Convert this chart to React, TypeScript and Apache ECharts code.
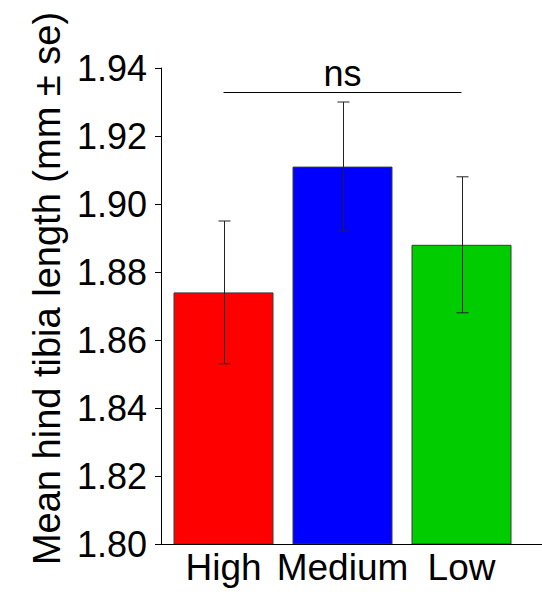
import React, { useEffect, useRef } from "react";
import * as echarts from "echarts";

const categories = ["High", "Medium", "Low"];
const means = [1.874, 1.911, 1.888];
const lowerSE = [1.853, 1.892, 1.868];
const upperSE = [1.895, 1.93, 1.908];
const barColors = ["#FF0000", "#0000FF", "#00CC00"];
const yMin = 1.8;
const yMax = 1.94;
const yInterval = 0.02;
const nsLevel = 1.933;
const nsLabel = "ns";
const yName = "Mean hind tibia length (mm \u00b1 se)";

const FONT = "'Liberation Sans', Arial, Helvetica, sans-serif";

export default function App() {
  const ref = useRef<HTMLDivElement>(null);

  useEffect(() => {
    if (!ref.current) return;
    const chart = echarts.init(ref.current, null, { renderer: "svg" });

    const option: any = {
      animation: false,
      backgroundColor: "#ffffff",
      textStyle: { fontFamily: FONT },
      grid: { left: 164, top: 68, width: 357, height: 476, containLabel: false },
      xAxis: {
        type: "category",
        data: categories,
        axisLine: { show: false },
        axisTick: { show: false },
        axisLabel: {
          color: "#000",
          fontSize: 37,
          fontFamily: FONT,
          margin: 5,
          interval: 0,
          hideOverlap: false,
        },
      },
      yAxis: {
        type: "value",
        min: yMin,
        max: yMax,
        interval: yInterval,
        offset: 3,
        name: yName,
        nameLocation: "middle",
        nameGap: 95,
        nameTextStyle: {
          color: "#000",
          fontSize: 38,
          fontFamily: FONT,
          padding: [0, 0, 0, 35],
        },
        axisLine: { show: true, lineStyle: { color: "#000", width: 1 } },
        axisTick: { show: true, inside: false, length: 6, lineStyle: { color: "#000" } },
        axisLabel: {
          color: "#000",
          fontSize: 36,
          fontFamily: FONT,
          margin: 14,
          formatter: (v: number) => v.toFixed(2),
        },
        splitLine: { show: false },
      },
      graphic: [
        {
          type: "line",
          shape: { x1: 161, y1: 544.5, x2: 542, y2: 544.5 },
          style: { stroke: "#000", lineWidth: 1 },
          z: 10,
        },
      ],
      series: [
        {
          type: "bar",
          barWidth: 100,
          data: means.map((v, i) => ({ value: v, itemStyle: { color: barColors[i] } })),
          itemStyle: { borderColor: "#3a3a3a", borderWidth: 1 },
          markLine: {
            silent: true,
            symbol: ["none", "none"],
            lineStyle: { color: "#000", width: 1, type: "solid" },
            label: {
              show: true,
              position: "middle",
              formatter: nsLabel,
              color: "#000",
              fontSize: 36,
              fontFamily: FONT,
              distance: 0,
            },
            data: [
              [
                { coord: [categories[0], nsLevel] },
                { coord: [categories[2], nsLevel] },
              ],
            ],
          },
        },
        {
          type: "custom",
          z: 5,
          data: categories.map((_, i) => [i, lowerSE[i], upperSE[i]]),
          renderItem: (params: any, api: any) => {
            const idx = api.value(0);
            const lo = api.coord([idx, api.value(1)]);
            const hi = api.coord([idx, api.value(2)]);
            const x = Math.round(lo[0]) + 0.5;
            const hw = 6;
            const style = { stroke: "#222", lineWidth: 1 };
            return {
              type: "group",
              children: [
                { type: "line", shape: { x1: x, y1: hi[1], x2: x, y2: lo[1] }, style },
                { type: "line", shape: { x1: x - hw, y1: hi[1], x2: x + hw, y2: hi[1] }, style },
                { type: "line", shape: { x1: x - hw, y1: lo[1], x2: x + hw, y2: lo[1] }, style },
              ],
            };
          },
        },
      ],
    };

    chart.setOption(option);
    return () => chart.dispose();
  }, []);

  return (
    <div
      ref={ref}
      style={{ position: "fixed", left: 0, top: 0, width: 542, height: 592 }}
    />
  );
}
